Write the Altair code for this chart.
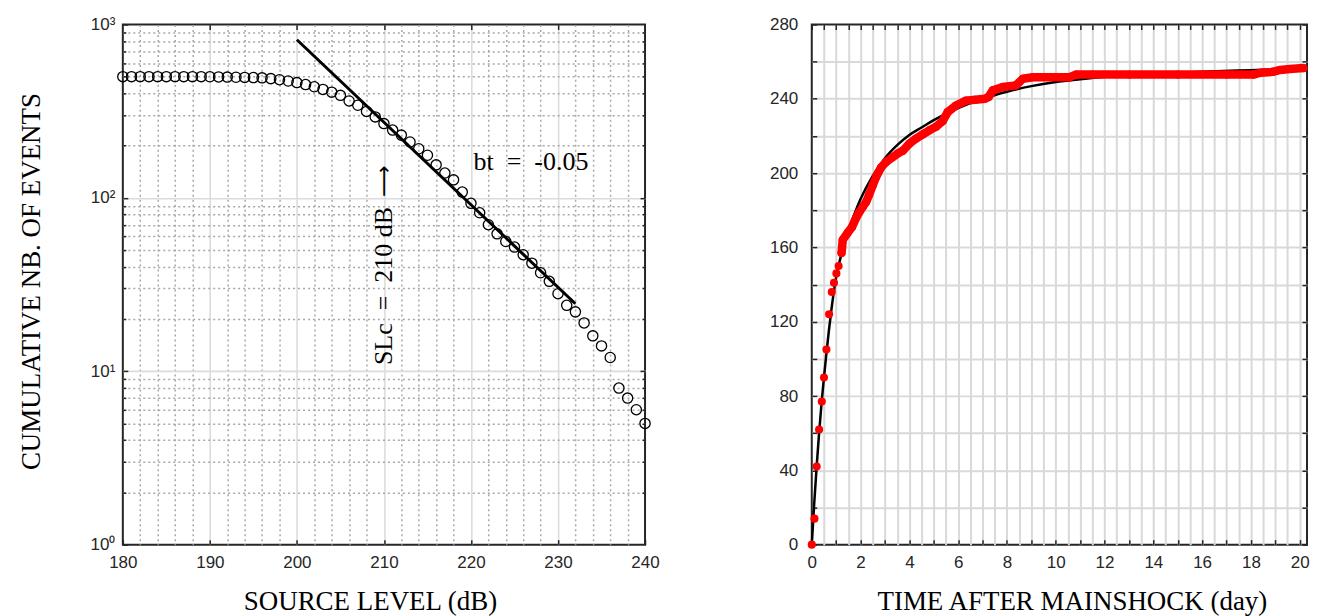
import altair as alt
import pandas as pd

# ---------------- left panel data ----------------
source_level = list(range(180, 241))
cum_events = [500, 500, 500, 500, 500, 500, 500, 500, 500, 500,
              499, 498, 497, 496, 495, 494, 492, 487, 480, 472,
              462, 450, 437, 422, 407, 390, 362, 342, 315, 293,
              268, 246, 230, 210, 192, 176, 155, 139, 127, 108,
              93, 82, 70, 62, 56, 52, 47, 42, 37, 33,
              28, 24, 22, 19, 16, 14, 12, 8, 7, 6, 5]
fit_level = [200, 232]
fit_events = [816, 24.5]

# ---------------- right panel data ----------------
early_t = [0, 0.11, 0.2, 0.3, 0.41, 0.5, 0.6, 0.71, 0.82, 0.91, 1.01, 1.1]
early_n = [0, 14, 42, 62, 77, 90, 105, 124, 136, 141, 146, 150]
dense_t = [1.22, 1.27, 1.48, 1.65, 1.82, 1.95, 2.1, 2.23, 2.34, 2.5, 2.64, 2.84,
           3.05, 3.32, 3.52, 3.73, 4.0, 4.27, 4.55, 4.82, 5.1, 5.37, 5.57, 5.91,
           6.32, 6.7, 7.1, 7.25, 7.42, 7.83, 8.37, 8.65, 9.06, 10.56, 10.83, 11.5,
           13.0, 15.0, 17.0, 18.1, 18.4, 18.9, 19.2, 19.6, 20.15]
dense_n = [157, 164, 168, 171, 176, 179, 182, 184.5, 188, 193.5, 198, 203,
           206, 208.6, 210.5, 212, 215.8, 218.5, 220.8, 223, 225, 228, 232.8, 236.4,
           239, 239.5, 240, 241, 244.5, 246.3, 247.2, 250.8, 251.6, 251.6, 253, 253,
           253, 253, 253, 253, 254, 254.5, 255.5, 256, 256.5]
omori_t = [0, 0.1, 0.2, 0.3, 0.4, 0.5, 0.6, 0.7, 0.8, 1.0, 1.25, 1.5, 1.75, 2.0,
           2.5, 3.0, 3.5, 4.0, 4.5, 5.0, 6.0, 7.0, 8.0, 9.0, 10.0, 11.0, 12.0,
           14.0, 16.0, 18.0, 20.1]
omori_n = [0, 22, 42, 60, 76, 90, 103, 115, 126, 144, 158, 169, 178, 186,
           198.5, 208, 215, 220.5, 224.5, 228.5, 235, 240, 243.8, 246.8, 249, 250.5, 251.8,
           253.3, 254.5, 255.4, 256.3]

# tick / grid positions
x_ticks_left = [180, 190, 200, 210, 220, 230, 240]
x_inner_left = [190, 200, 210, 220, 230]
x_minor_left = [v for v in range(182, 240, 2) if v % 10 != 0]
y_ticks_left = [1, 10, 100, 1000]
y_inner_left = [10, 100]
y_minor_left = [m * 10 ** e for e in range(3) for m in range(2, 10)]
x_ticks_right = [i * 0.5 for i in range(41)]
x_grid_right = x_ticks_right[1:]
y_ticks_right = list(range(0, 281, 20))
y_grid_right = list(range(20, 280, 20))

FRAME = "#262626"
LBL_FONT = "Liberation Sans"
TTL_FONT = "Liberation Serif"
W_L, W_R, H = 523, 496, 521


def tick_ax(orient, values, size, **kw):
    d = dict(orient=orient, values=values, ticks=True, tickSize=size, offset=-size,
             tickColor=FRAME, tickWidth=1.5, domain=False, grid=False, labels=False,
             title=None)
    d.update(kw)
    return alt.Axis(**d)


def grid_ax(orient, values, color, width, dash=None):
    d = dict(orient=orient, values=values, ticks=False, labels=False, domain=False,
             grid=True, gridColor=color, gridWidth=width, title=None)
    if dash:
        d["gridDash"] = dash
    return alt.Axis(**d)


lbl = dict(labels=True, labelFont=LBL_FONT, labelFontSize=17, labelColor=FRAME,
           labelOverlap=False, labelFlush=False)
ttl = dict(titleFont=TTL_FONT, titleFontSize=27, titleFontWeight="normal",
           titleColor="black", titleAlign="center", titleBaseline="middle")

df_sl = pd.DataFrame({"sl": source_level, "n": cum_events})
df_fit = pd.DataFrame({"sl": fit_level, "n": fit_events})
df_bt = pd.DataFrame({"sl": [226.9], "n": [160], "label": ["bt\u2002=\u2002-0.05"]})
df_slc = pd.DataFrame({"sl": [210], "n": [31], "label": ["SLc\u2002=\u2002210 dB"]})
df_arrow = pd.DataFrame({"sl": [210], "n": [125], "label": ["\u27f6"]})

xs_l = alt.Scale(domain=[180, 240], nice=False, zero=False)
ys_l = alt.Scale(type="log", domain=[1, 1000], nice=False)

sup = "{'1': '\u2070', '10': '\u00b9', '100': '\u00b2', '1000': '\u00b3'}"
circles = alt.Chart(df_sl).mark_point(
    shape="circle", filled=False, size=105, color="black", strokeWidth=1.3, opacity=1
).encode(
    x=alt.X("sl:Q", scale=xs_l, axis=tick_ax(
        "bottom", x_ticks_left, 5, labelPadding=10, title="SOURCE LEVEL (dB)",
        titleX=247.5, titleY=62, **lbl, **ttl)),
    y=alt.Y("n:Q", scale=ys_l, axis=tick_ax(
        "left", y_ticks_left, 5, labelPadding=8,
        labelExpr="'10' + " + sup + "[datum.value + '']",
        title="CUMULATIVE NB. OF EVENTS", titleX=-96, titleY=257, titleAngle=270,
        **lbl, **ttl)),
)
fit_line = alt.Chart(df_fit).mark_line(color="black", strokeWidth=3).encode(
    x=alt.X("sl:Q", scale=xs_l, axis=tick_ax("top", x_inner_left, 5)),
    y=alt.Y("n:Q", scale=ys_l, axis=tick_ax("right", y_inner_left, 5)),
)
bt_text = alt.Chart(df_bt).mark_text(
    font=TTL_FONT, fontSize=26, color="black", align="center", baseline="middle"
).encode(
    x=alt.X("sl:Q", scale=xs_l, axis=grid_ax("bottom", x_inner_left, "#dcdcdc", 1.6)),
    y=alt.Y("n:Q", scale=ys_l, axis=grid_ax("left", y_inner_left, "#dcdcdc", 1.6)),
    text="label:N",
)
slc_text = alt.Chart(df_slc).mark_text(
    font=TTL_FONT, fontSize=26, color="black", align="center", baseline="middle", angle=270
).encode(
    x=alt.X("sl:Q", scale=xs_l, axis=grid_ax("bottom", x_minor_left, "#a8a8a8", 1.5, [2, 3])),
    y=alt.Y("n:Q", scale=ys_l, axis=grid_ax("left", y_minor_left, "#a8a8a8", 1.5, [2, 3])),
    text="label:N",
)
arrow_text = alt.Chart(df_arrow).mark_text(
    font="DejaVu Sans", fontSize=22, color="black", align="center", baseline="middle", angle=270
).encode(
    x=alt.X("sl:Q", scale=xs_l, axis=None),
    y=alt.Y("n:Q", scale=ys_l, axis=None),
    text="label:N",
)
minor_l = alt.Chart(df_sl).mark_point(opacity=0).encode(
    x=alt.X("sl:Q", scale=xs_l, axis=None),
    y=alt.Y("n:Q", scale=ys_l, axis=tick_ax("left", y_minor_left, 3)),
)
minor_r = alt.Chart(df_sl).mark_point(opacity=0).encode(
    x=alt.X("sl:Q", scale=xs_l, axis=None),
    y=alt.Y("n:Q", scale=ys_l, axis=tick_ax("right", y_minor_left, 3)),
)
left = alt.layer(bt_text, slc_text, arrow_text, minor_l, minor_r, fit_line, circles).resolve_axis(
    x="independent", y="independent").properties(width=W_L, height=H)

# ---------------- right panel ----------------
df_omori = pd.DataFrame({"t": omori_t, "n": omori_n})
df_dense = pd.DataFrame({"t": dense_t, "n": dense_n})
df_events = pd.DataFrame({"t": early_t + dense_t, "n": early_n + dense_n})
xs_r = alt.Scale(domain=[0, 20.3], nice=False)
ys_r = alt.Scale(domain=[0, 280], nice=False)

omori = alt.Chart(df_omori).mark_line(color="black", strokeWidth=2.5, interpolate="monotone").encode(
    x=alt.X("t:Q", scale=xs_r, axis=tick_ax(
        "bottom", x_ticks_right, 5, labelPadding=10, format="d",
        labelExpr="datum.value % 2 == 0 ? datum.label : ''",
        title="TIME AFTER MAINSHOCK (day)", titleX=260.5, titleY=62, **lbl, **ttl)),
    y=alt.Y("n:Q", scale=ys_r, axis=tick_ax(
        "left", y_ticks_right, 5, labelPadding=14,
        labelExpr="datum.value % 40 == 0 ? datum.label : ''", **lbl)),
)
red_line = alt.Chart(df_dense).mark_line(
    color="red", strokeWidth=8.5, strokeCap="round", strokeJoin="round"
).encode(
    x=alt.X("t:Q", scale=xs_r, axis=tick_ax("top", x_ticks_right, 5)),
    y=alt.Y("n:Q", scale=ys_r, axis=tick_ax("right", y_ticks_right, 5)),
)
red_dots = alt.Chart(df_events).mark_circle(color="red", size=66, opacity=1).encode(
    x=alt.X("t:Q", scale=xs_r, axis=grid_ax("bottom", x_grid_right, "#d9d9d9", 2)),
    y=alt.Y("n:Q", scale=ys_r, axis=grid_ax("left", y_grid_right, "#d9d9d9", 2)),
)
right = alt.layer(omori, red_line, red_dots).resolve_axis(
    x="independent", y="independent").properties(width=W_R, height=H)

chart = alt.hconcat(left, right, spacing=167, bounds="flush").properties(
    padding={"left": 8, "top": 6, "right": 5, "bottom": 5}, background="white"
).configure_view(stroke=FRAME, strokeWidth=2)

chart.save("out.html", embed_options={"renderer": "svg", "actions": False})
